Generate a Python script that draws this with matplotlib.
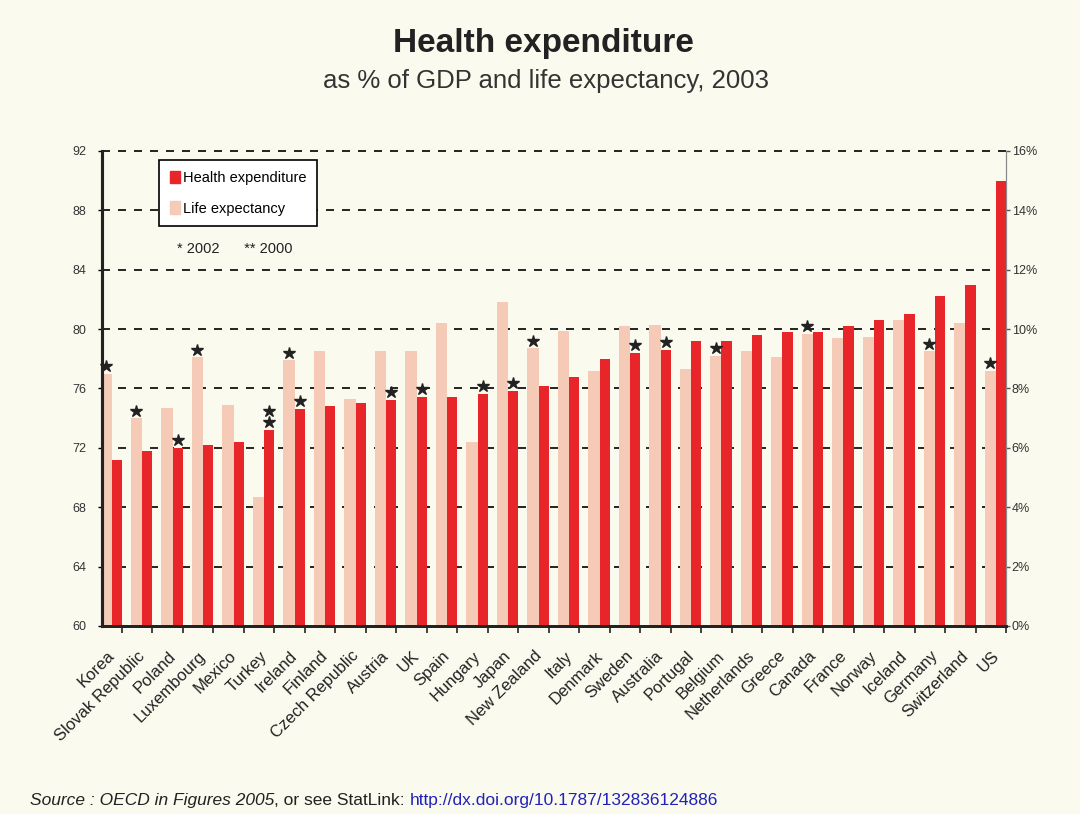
import numpy as np
import matplotlib
matplotlib.use("Agg")
import matplotlib.pyplot as plt

# data
countries = ["Korea", "Slovak Republic", "Poland", "Luxembourg", "Mexico", "Turkey",
             "Ireland", "Finland", "Czech Republic", "Austria", "UK", "Spain",
             "Hungary", "Japan", "New Zealand", "Italy", "Denmark", "Sweden",
             "Australia", "Portugal", "Belgium", "Netherlands", "Greece", "Canada",
             "France", "Norway", "Iceland", "Germany", "Switzerland", "US"]
life_exp = [77.0, 74.0, 74.7, 78.1, 74.9, 68.7, 77.9, 78.5, 75.3, 78.5, 78.5, 80.4,
            72.4, 81.8, 78.7, 79.9, 77.2, 80.2, 80.3, 77.3, 78.2, 78.5, 78.1, 79.7,
            79.4, 79.5, 80.6, 78.5, 80.4, 77.2]
health_exp = [5.6, 5.9, 6.0, 6.1, 6.2, 6.6, 7.3, 7.4, 7.5, 7.6, 7.7, 7.7,
              7.8, 7.9, 8.1, 8.4, 9.0, 9.2, 9.3, 9.6, 9.6, 9.8, 9.9, 9.9,
              10.1, 10.3, 10.5, 11.1, 11.5, 15.0]
# number of stars (1 = 2002, 2 = 2000) over each bar
life_stars = {"Korea": 1, "Slovak Republic": 1, "Luxembourg": 1, "Ireland": 1,
              "New Zealand": 1, "Belgium": 1, "Canada": 1, "Germany": 1, "US": 1}
health_stars = {"Poland": 1, "Turkey": 2, "Ireland": 1, "Austria": 1, "UK": 1,
                "Hungary": 1, "Japan": 1, "Sweden": 1, "Australia": 1}

BG = "#FAFAEE"
RED = "#E8262A"
PINK = "#F5CAB6"
FONT = ["Liberation Sans", "DejaVu Sans"]

plt.rcParams["font.family"] = FONT

fig = plt.figure(figsize=(10.8, 8.14), dpi=100, facecolor=BG)
ax = fig.add_axes([0.0944, 0.2310, 0.8371, 0.5835])
ax.set_facecolor(BG)
ax2 = ax.twinx()

n = len(countries)
x = np.arange(n)

ax.bar(x + 0.30, np.array(life_exp) - 60, bottom=60, width=0.37, align="edge",
       color=PINK, zorder=2)
ax2.bar(x + 0.67, health_exp, width=0.33, align="edge", color=RED, zorder=2)

# stars
for i, c in enumerate(countries):
    k = life_stars.get(c, 0)
    for s in range(k):
        ax2.plot(i + 0.485, life_exp[i] + 0.5 + 0.75 * s, marker="*", color="#222222",
                 markersize=9, transform=ax.transData, zorder=5, clip_on=False)
    k = health_stars.get(c, 0)
    for s in range(k):
        ax2.plot(i + 0.835, health_exp[i] + 0.27 + 0.37 * s, marker="*", color="#222222",
                 markersize=9, zorder=5, clip_on=False)

ax.set_xlim(0.354, n)
ax2.set_xlim(0.354, n)
ax.set_ylim(60, 92)
ax2.set_ylim(0, 16)

yt = np.arange(60, 93, 4)
ax.set_yticks(yt)
ax.set_yticklabels([str(v) for v in yt])
for v in yt[1:]:
    ax.axhline(v, color="black", lw=1.2, ls=(0, (4.8, 4.8)), zorder=1, clip_on=False)
ax2.set_yticks(np.arange(0, 17, 2))
ax2.set_yticklabels([f"{v}%" for v in range(0, 17, 2)])

ax.set_xticks(np.arange(1, n + 1))
ax.set_xticklabels([])
ax.set_xticks(x + 0.86, minor=True)
ax.set_xticklabels(countries, minor=True, rotation=45, ha="right", fontsize=12,
                   color="#222222")
ax.tick_params(axis="x", which="major", direction="out", length=5, width=1.2, color="#222222")
ax.tick_params(axis="x", which="minor", length=0, pad=16)
ax.tick_params(axis="y", direction="out", length=3, width=1, labelsize=9,
               labelcolor="#333333", pad=8)
ax2.tick_params(axis="y", direction="out", length=3, width=1, labelsize=9,
                labelcolor="#333333", pad=1, color="#555555")

for a in (ax, ax2):
    a.spines["top"].set_visible(False)
    a.spines["left"].set_linewidth(2.2)
    a.spines["left"].set_color("#222222")
    a.spines["bottom"].set_linewidth(2)
    a.spines["bottom"].set_color("#222222")
    a.spines["right"].set_linewidth(0.8)
    a.spines["right"].set_color("#888888")

# legend
h1 = plt.Rectangle((0, 0), 1, 1, color=RED)
h2 = plt.Rectangle((0, 0), 1, 1, color=PINK)
leg = fig.legend([h1, h2], ["Health expenditure", "Life expectancy"],
                 loc="upper left", bbox_to_anchor=(0.147, 0.803), frameon=True,
                 fancybox=False, edgecolor="black", facecolor="white", framealpha=1,
                 fontsize=10.5, handlelength=0.7, handleheight=0.9, handletextpad=0.2,
                 labelspacing=1.1, borderpad=0.75, borderaxespad=0)
leg.get_frame().set_linewidth(1.2)
fig.text(0.164, 0.694, "* 2002      ** 2000", fontsize=10.5, color="#222222",
         va="center")

# titles
fig.text(0.503, 0.946, "Health expenditure", fontsize=24, fontweight="bold",
         ha="center", va="center", color="#222222")
fig.text(0.506, 0.900, "as % of GDP and life expectancy, 2003", fontsize=18.5,
         ha="center", va="center", color="#333333")

# source line
YS = 0.011
t1 = fig.text(0.028, YS, "Source : OECD in Figures 2005", fontsize=12.5,
              style="italic", color="#222222", va="baseline")
t2 = fig.text(0, 0, ", or see StatLink: ", fontsize=12.5, color="#222222")
t3 = fig.text(0, 0, "http://dx.doi.org/10.1787/132836124886", fontsize=12.5,
              color="#2222BB")
fig.canvas.draw()
r = fig.canvas.get_renderer()
bb = t1.get_window_extent(r).transformed(fig.transFigure.inverted())
t2.set_position((bb.x1, YS))
t2.set_va("baseline")
fig.canvas.draw()
bb = t2.get_window_extent(r).transformed(fig.transFigure.inverted())
t3.set_position((bb.x1, YS))
t3.set_va("baseline")

fig.savefig("out.png", dpi=100, facecolor=BG)
